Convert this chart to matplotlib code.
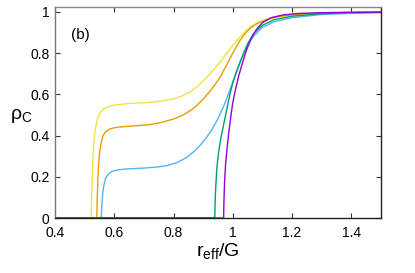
import matplotlib
matplotlib.use("Agg")
import matplotlib.pyplot as plt

plt.rcParams['font.family'] = ['Liberation Sans', 'DejaVu Sans']
plt.rcParams['mathtext.fontset'] = 'custom'
plt.rcParams['mathtext.rm'] = 'Liberation Sans'
plt.rcParams['mathtext.it'] = 'Liberation Sans'

# Read-off curves: r_eff/G vs rho_C
x_yellow = [0.40, 0.522, 0.524, 0.527, 0.531, 0.536, 0.543, 0.552, 0.565, 0.58, 0.60, 0.65, 0.71, 0.76, 0.80,
            0.83, 0.86, 0.88, 0.90, 0.92, 0.94, 0.96, 0.98, 1.00, 1.02, 1.04, 1.06, 1.08, 1.11, 1.15, 1.20,
            1.30, 1.40, 1.50]
y_yellow = [0.0, 0.0, 0.12, 0.26, 0.36, 0.43, 0.48, 0.51, 0.53, 0.54, 0.548, 0.555, 0.56, 0.567, 0.578,
            0.593, 0.615, 0.638, 0.665, 0.695, 0.727, 0.762, 0.80, 0.838, 0.872, 0.902, 0.927, 0.945, 0.963,
            0.978, 0.987, 0.994, 0.997, 0.998]

x_orange = [0.40, 0.541, 0.543, 0.546, 0.550, 0.555, 0.562, 0.572, 0.585, 0.60, 0.63, 0.68, 0.72, 0.76, 0.80,
            0.83, 0.86, 0.88, 0.90, 0.92, 0.94, 0.96, 0.98, 1.00, 1.02, 1.04, 1.06, 1.08, 1.11, 1.15, 1.20,
            1.30, 1.40, 1.50]
y_orange = [0.0, 0.0, 0.12, 0.23, 0.31, 0.36, 0.40, 0.42, 0.432, 0.438, 0.443, 0.448, 0.453, 0.464, 0.48,
            0.498, 0.524, 0.548, 0.577, 0.61, 0.647, 0.69, 0.745, 0.80, 0.852, 0.893, 0.922, 0.942, 0.96,
            0.976, 0.986, 0.994, 0.997, 0.998]

x_blue = [0.40, 0.556, 0.558, 0.561, 0.565, 0.570, 0.578, 0.59, 0.61, 0.64, 0.70, 0.75, 0.78, 0.81, 0.83,
          0.85, 0.87, 0.89, 0.91, 0.93, 0.95, 0.97, 0.99, 1.01, 1.03, 1.05, 1.07, 1.10, 1.14, 1.20, 1.30,
          1.40, 1.50]
y_blue = [0.0, 0.0, 0.06, 0.12, 0.16, 0.19, 0.21, 0.225, 0.233, 0.238, 0.242, 0.248, 0.255, 0.268, 0.282,
          0.30, 0.324, 0.353, 0.388, 0.43, 0.482, 0.545, 0.62, 0.70, 0.775, 0.838, 0.882, 0.925, 0.952,
          0.972, 0.987, 0.993, 0.996]

x_green = [0.40, 0.939, 0.940, 0.942, 0.946, 0.952, 0.960, 0.970, 0.980, 0.990, 1.00, 1.01, 1.02, 1.035,
           1.05, 1.07, 1.10, 1.14, 1.20, 1.30, 1.40, 1.50]
y_green = [0.0, 0.0, 0.06, 0.14, 0.24, 0.32, 0.39, 0.46, 0.53, 0.60, 0.655, 0.70, 0.74, 0.795,
           0.845, 0.895, 0.935, 0.962, 0.979, 0.991, 0.996, 0.998]

x_purple = [0.40, 0.969, 0.970, 0.972, 0.975, 0.980, 0.986, 0.993, 1.00, 1.01, 1.02, 1.03, 1.045, 1.06,
            1.08, 1.10, 1.13, 1.17, 1.22, 1.30, 1.40, 1.50]
y_purple = [0.0, 0.0, 0.08, 0.17, 0.25, 0.33, 0.41, 0.49, 0.56, 0.63, 0.69, 0.74, 0.81, 0.865,
            0.915, 0.948, 0.972, 0.985, 0.992, 0.996, 0.998, 0.999]

series = [
    (x_yellow, y_yellow, '#f0e442'),
    (x_orange, y_orange, '#e69f00'),
    (x_blue, y_blue, '#56b4e9'),
    (x_green, y_green, '#009e73'),
    (x_purple, y_purple, '#9400d3'),
]

xticks = [0.4, 0.6, 0.8, 1.0, 1.2, 1.4]
xticklabels = ['0.4', '0.6', '0.8', '1', '1.2', '1.4']
yticks = [0, 0.2, 0.4, 0.6, 0.8, 1.0]
yticklabels = ['0', '0.2', '0.4', '0.6', '0.8', '1']

fig = plt.figure(figsize=(4.15, 2.73), dpi=100)
ax = fig.add_axes([55/415, 1-218/273, (381-55)/415, (218-6.7)/273])

for xs, ys, c in series:
    ax.plot(xs, ys, color=c, lw=1.0)

ax.set_xlim(0.4, 1.5)
ax.set_ylim(0, 1.025)
ax.set_xticks(xticks)
ax.set_xticklabels(xticklabels)
ax.set_yticks(yticks)
ax.set_yticklabels(yticklabels)
ax.tick_params(direction='in', top=True, right=True, length=3.5, width=0.8,
               labelsize=10, colors='#333333', labelcolor='black')
ax.tick_params(axis='x', pad=5.5)
ax.tick_params(axis='y', pad=4)

for side, col in [('top', '#888888'), ('left', '#777777'), ('right', '#222222'), ('bottom', '#222222')]:
    ax.spines[side].set_color(col)
    ax.spines[side].set_linewidth(1.0)

ax.text(0.485, 0.889, '(b)', fontsize=11, ha='center', va='center')
fig.text(21/415, 1-116/273, r'$\rho_{\mathrm{C}}$', fontsize=14, ha='center', va='center')
fig.text(218/415, 1-251/273, r'$\mathrm{r_{eff}/G}$', fontsize=14, ha='center', va='center')

fig.savefig('out.png', dpi=100)
